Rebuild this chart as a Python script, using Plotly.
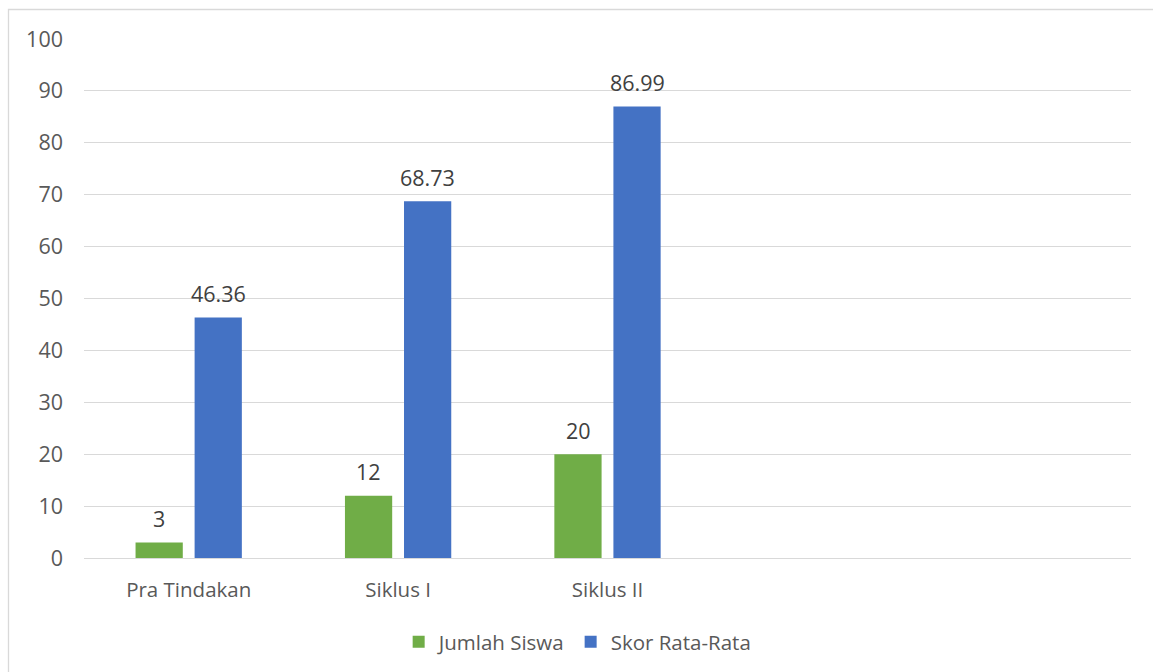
import plotly.graph_objects as go

categories = ["Pra Tindakan", "Siklus I", "Siklus II", " ", "  "]
jumlah_siswa = [3, 12, 20, None, None]
skor_rata = [46.36, 68.73, 86.99, None, None]
jumlah_labels = ["3", "12", "20", "", ""]
skor_labels = ["46.36", "68.73", "86.99", "", ""]

FONT = "'Open Sans', Lato, sans-serif"
FS_NUM = 21.5
FS_TXT = 20.5

W, H = 1153, 672
L, R, T, B = 84, 1131, 39, 558
pw, ph = R - L, B - T

fig = go.Figure()
fig.add_trace(go.Bar(
    name="Jumlah Siswa", x=categories, y=jumlah_siswa,
    marker=dict(color="#70ad47", line=dict(width=0)),
))
fig.add_trace(go.Bar(
    name="Skor Rata-Rata", x=categories, y=skor_rata,
    marker=dict(color="#4472c4", line=dict(width=0)),
))

annotations = []
for vals, labels, xs in ((jumlah_siswa, jumlah_labels, -29.5), (skor_rata, skor_labels, 29.5)):
    for c, v, t in zip(categories, vals, labels):
        if v is None:
            continue
        annotations.append(dict(x=c, y=v, xref="x", yref="y", text=t, showarrow=False,
                                xshift=xs, yshift=24, yanchor="middle", xanchor="center",
                                font=dict(size=FS_NUM, color="#404040", family=FONT)))

fig.update_layout(
    width=W, height=H,
    margin=dict(l=L, r=W - R, t=T, b=H - B, autoexpand=False),
    paper_bgcolor="white", plot_bgcolor="white",
    barmode="group", bargap=0.436, bargroupgap=0.2,
    font=dict(family=FONT, color="#595959", size=FS_TXT),
    showlegend=True,
    legend=dict(orientation="h", x=0.4715, xanchor="center", y=(B - 642) / ph, yanchor="middle",
                font=dict(size=FS_TXT, color="#595959"), traceorder="normal",
                itemwidth=30),
    xaxis=dict(showgrid=False, showline=False, ticks="", tickfont=dict(size=FS_TXT, color="#595959"),
               ticklabelstandoff=17),
    yaxis=dict(range=[0, 100], dtick=10, showgrid=True, gridcolor="#d9d9d9", gridwidth=1.3,
               zeroline=True, zerolinecolor="#d9d9d9", zerolinewidth=1.3, showline=False,
               tickfont=dict(size=FS_NUM, color="#595959"), ticklabelstandoff=20),
    annotations=annotations,
    shapes=[dict(type="rect", xref="paper", yref="paper",
                 x0=(8.5 - L) / pw, x1=(1170 - L) / pw,
                 y0=(B - 690) / ph, y1=(B - 9.5) / ph,
                 line=dict(color="#d9d9d9", width=1.3), fillcolor="rgba(0,0,0,0)", layer="below")],
)

fig.write_html("out.html")
